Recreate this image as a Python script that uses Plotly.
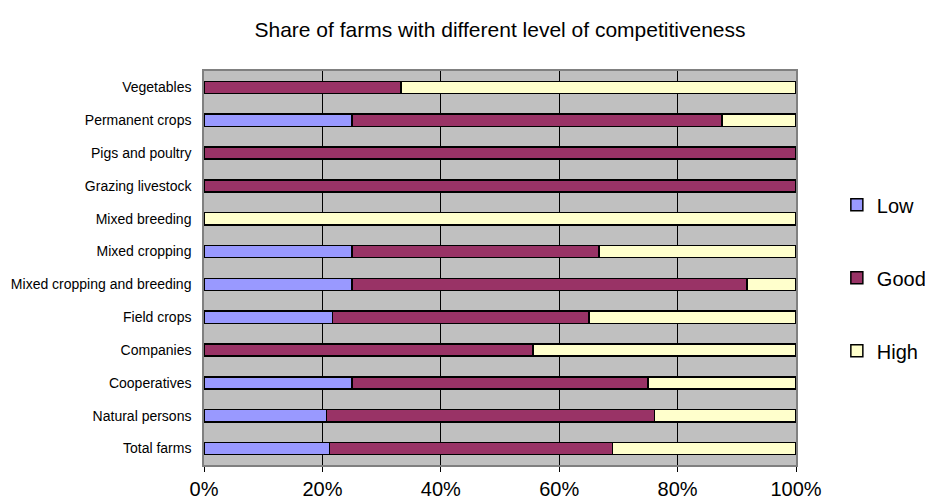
import plotly.graph_objects as go

categories = ["Total farms", "Natural persons", "Cooperatives", "Companies", "Field crops",
              "Mixed cropping and breeding", "Mixed cropping", "Mixed breeding",
              "Grazing livestock", "Pigs and poultry", "Permanent crops", "Vegetables"]
low = [21.2, 20.7, 25.0, 0.0, 21.7, 25.0, 25.0, 0.0, 0.0, 0.0, 25.0, 0.0]
good = [47.8, 55.4, 50.0, 55.6, 43.3, 66.7, 41.7, 0.0, 100.0, 100.0, 62.5, 33.3]
high = [31.0, 23.9, 25.0, 44.4, 35.0, 8.3, 33.3, 100.0, 0.0, 0.0, 12.5, 66.7]
series = [("Low", low, "#9999FF"), ("Good", good, "#993366"), ("High", high, "#FFFFCC")]
x_ticks = [0, 20, 40, 60, 80, 100]

FONT = "Liberation Sans, Arial, sans-serif"

fig = go.Figure()
for name, vals, color in series:
    fig.add_trace(go.Bar(
        y=categories, x=vals, name=name, orientation="h",
        marker=dict(color=color, line=dict(color="black", width=1.5)),
        legendgroup=name,
    ))

fig.update_layout(
    width=925, height=504,
    barmode="stack", bargap=0.63,
    margin=dict(l=204, r=129, t=71, b=39, autoexpand=False),
    paper_bgcolor="white", plot_bgcolor="#C0C0C0",
    font=dict(family=FONT, color="black"),
    title=dict(text="Share of farms with different level of competitiveness",
               x=0.5, xref="paper", xanchor="center",
               y=1 - 30 / 504, yref="container", yanchor="middle",
               font=dict(size=21, family=FONT, color="black")),
    legend=dict(x=1.069, xanchor="left", y=0.475, yanchor="middle",
                traceorder="grouped", tracegroupgap=44,
                font=dict(size=20, family=FONT, color="black"),
                bgcolor="rgba(0,0,0,0)"),
    xaxis=dict(range=[0, 100], tickvals=x_ticks,
               ticktext=[f"{v}%" for v in x_ticks],
               showgrid=True, gridcolor="black", gridwidth=1,
               zeroline=False, showline=True, linecolor="#808080", linewidth=1.5,
               mirror=True, ticks="outside", ticklen=5, tickcolor="black",
               ticklabelstandoff=0,
               tickfont=dict(size=20, family=FONT, color="black")),
    yaxis=dict(showgrid=False, zeroline=False, showline=True, linecolor="#808080",
               linewidth=1.5, mirror=True, ticks="", ticklen=0,
               ticklabelstandoff=8,
               categoryorder="array", categoryarray=categories,
               tickfont=dict(size=14, family=FONT, color="black")),
)

fig.write_html("out.html")
